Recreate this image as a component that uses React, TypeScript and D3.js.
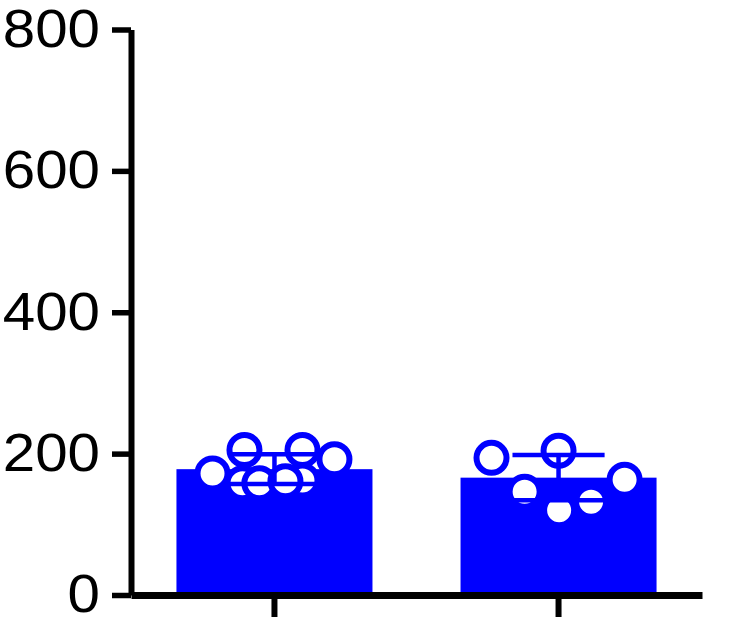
import React, { useEffect, useRef } from 'react';
import * as d3 from 'd3';

// groups on the x axis (no labels are printed under the ticks)
const groups = ['Group 1', 'Group 2'];
// bar heights (group means) and error bars (SD)
const means = [178, 166];
const sds = [21, 32];
// individual replicate values, with their horizontal scatter (fraction of bar width)
const points1 = [172, 205, 205, 192, 158, 162, 158, 161];
const jitter1 = [-0.316, -0.153, 0.143, 0.306, -0.163, 0.143, -0.077, 0.056];
const points2 = [194, 204, 163, 146, 120, 132];
const jitter2 = [-0.342, 0, 0.337, -0.173, 0.003, 0.166];
const yTicks = [0, 200, 400, 600, 800];

const BLUE = '#0000ff';

const App: React.FC = () => {
    const svgRef = useRef<SVGSVGElement>(null);

    useEffect(() => {
        if (!svgRef.current) return;
        const svg = d3.select(svgRef.current);
        svg.selectAll('*').remove();

        const x = d3.scaleBand<string>()
            .domain(groups)
            .range([131, 702])
            .paddingInner(0.31)
            .paddingOuter(0.16);

        const y = d3.scaleLinear()
            .domain([0, 800])
            .range([595, 29.5]);

        const data = groups.map((g, i) => ({
            group: g,
            mean: means[i],
            sd: sds[i],
            points: (i === 0 ? points1 : points2).map((v, j) => ({
                value: v,
                jitter: (i === 0 ? jitter1 : jitter2)[j],
            })),
        }));

        // bars
        svg.append('g')
            .selectAll('rect')
            .data(data)
            .join('rect')
            .attr('x', d => x(d.group)!)
            .attr('y', d => y(d.mean))
            .attr('width', x.bandwidth())
            .attr('height', d => y(0) - y(d.mean))
            .attr('fill', BLUE);

        // replicate points
        const bw = x.bandwidth();
        data.forEach(d => {
            const cx = x(d.group)! + bw / 2;
            svg.append('g')
                .selectAll('circle')
                .data(d.points)
                .join('circle')
                .attr('cx', p => cx + p.jitter * bw)
                .attr('cy', p => y(p.value))
                .attr('r', 15)
                .attr('fill', '#fff')
                .attr('stroke', BLUE)
                .attr('stroke-width', 6);
        });

        // error bars
        const capHalf = bw * 0.235;
        const eb = svg.append('g')
            .attr('stroke', BLUE)
            .attr('stroke-width', 4.5)
            .attr('fill', 'none');
        data.forEach(d => {
            const cx = x(d.group)! + bw / 2;
            const hi = y(d.mean + d.sd);
            const lo = y(d.mean - d.sd);
            eb.append('line').attr('x1', cx).attr('x2', cx).attr('y1', hi).attr('y2', lo);
            eb.append('line').attr('x1', cx - capHalf).attr('x2', cx + capHalf).attr('y1', hi).attr('y2', hi);
            eb.append('line').attr('x1', cx - capHalf).attr('x2', cx + capHalf).attr('y1', lo).attr('y2', lo);
        });

        // x axis
        const xAxis = svg.append('g')
            .attr('transform', `translate(0,${y(0)})`)
            .call(d3.axisBottom(x).tickSize(22).tickSizeOuter(0).tickFormat(() => ''));
        xAxis.select('.domain').attr('stroke', '#000').attr('stroke-width', 7);
        xAxis.selectAll('.tick line').attr('stroke', '#000').attr('stroke-width', 6);

        // y axis
        const yAxis = svg.append('g')
            .attr('transform', `translate(131,0)`)
            .call(d3.axisLeft(y).tickValues(yTicks).tickSize(19).tickSizeOuter(0));
        yAxis.select('.domain').attr('stroke', '#000').attr('stroke-width', 6);
        yAxis.selectAll('.tick line').attr('stroke', '#000').attr('stroke-width', 5.5);
        yAxis.selectAll('.tick text')
            .attr('x', null)
            .attr('transform', 'translate(-31,0) scale(1.1,1)')
            .attr('fill', '#000')
            .style('font-family', '"Liberation Sans", Arial, sans-serif')
            .style('font-size', '53px');
    }, []);

    return (
        <svg
            ref={svgRef}
            width={729}
            height={625}
            style={{ position: 'absolute', left: 0, top: 0, background: '#fff' }}
        />
    );
};

export default App;
